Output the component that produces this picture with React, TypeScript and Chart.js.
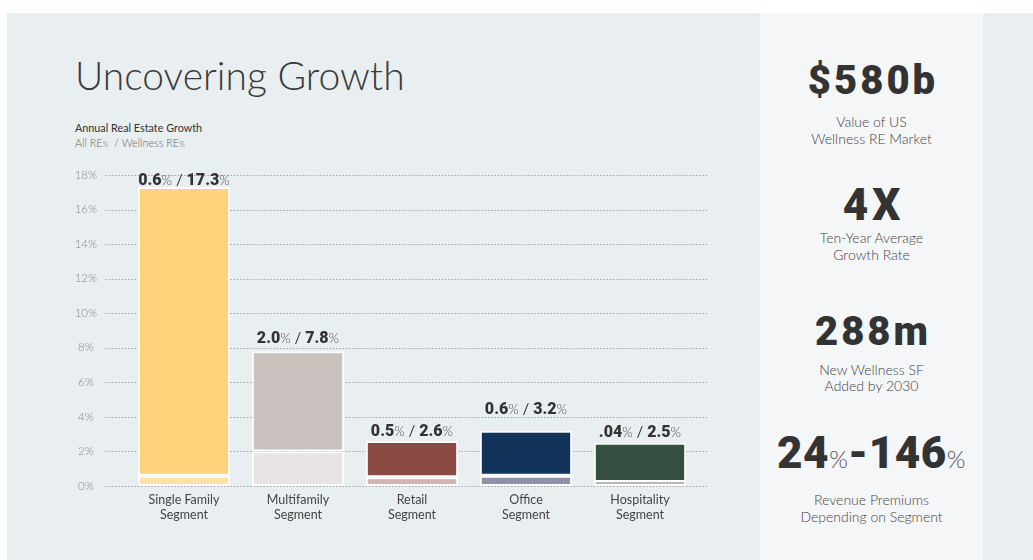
import React, { useEffect, useRef } from 'react';
import { Chart, registerables } from 'chart.js';

Chart.register(...registerables);

// ---------- data ----------
const categories = ['Single Family', 'Multifamily', 'Retail', 'Office', 'Hospitality'];
const allREGrowth = [0.6, 2.0, 0.5, 0.6, 0.04];
const wellnessREGrowth = [17.3, 7.8, 2.6, 3.2, 2.5];
const yTickValues = [0, 2, 4, 6, 8, 10, 12, 14, 16, 18];

const statValues = ['$580b', '4X', '288m'];
const statCaptions = [
  ['Value of US', 'Wellness RE Market'],
  ['Ten-Year Average', 'Growth Rate'],
  ['New Wellness SF', 'Added by 2030'],
];
const premiumRange = ['24', '146'];
const premiumCaption = ['Revenue Premiums', 'Depending on Segment'];

// ---------- styles ----------
const wellnessColors = ['#FDD47C', '#C9C1BE', '#8B4A44', '#12335A', '#344E3F'];
const allREColors = ['#FDE1A5', '#E8E4E3', '#D3B4B2', '#8D92A8', '#B5BAB8'];
const labelLift = [2, 8, 5, 17, 6];
const FONT = 'Lato, "Open Sans", sans-serif';
const HEAVY = 'Roboto, "Open Sans", sans-serif';

const fmt = (v: number) => (v < 0.1 ? v.toFixed(2).replace(/^0/, '') : v.toFixed(1));

const dottedGrid = {
  id: 'dottedGrid',
  beforeDatasetsDraw(chart: any) {
    const { ctx, chartArea, scales } = chart;
    const y = scales.y;
    ctx.save();
    ctx.strokeStyle = '#a3a7ab';
    ctx.lineWidth = 1;
    ctx.setLineDash([1.6, 1.7]);
    y.ticks.forEach((t: any) => {
      const py = Math.round(y.getPixelForValue(t.value)) + 0.5;
      ctx.beginPath();
      ctx.moveTo(chartArea.left - 22, py);
      ctx.lineTo(chartArea.right + 11, py);
      ctx.stroke();
    });
    ctx.restore();
  },
};

const barLabels = {
  id: 'barLabels',
  afterDatasetsDraw(chart: any) {
    const { ctx } = chart;
    const meta = chart.getDatasetMeta(1);
    ctx.save();
    ctx.textBaseline = 'alphabetic';
    ctx.textAlign = 'left';
    meta.data.forEach((bar: any, i: number) => {
      const top = Math.min(bar.y, bar.base);
      const parts = [
        { t: fmt(allREGrowth[i]), f: `900 16px ${HEAVY}`, c: '#333' },
        { t: '%', f: `300 13.5px ${FONT}`, c: '#555' },
        { t: ' / ', f: `400 15px ${FONT}`, c: '#333' },
        { t: fmt(wellnessREGrowth[i]), f: `900 16px ${HEAVY}`, c: '#333' },
        { t: '%', f: `300 13.5px ${FONT}`, c: '#555' },
      ];
      let total = 0;
      const widths = parts.map((p) => {
        ctx.font = p.f;
        const w = ctx.measureText(p.t).width;
        total += w;
        return w;
      });
      let x = bar.x - total / 2;
      const by = top - labelLift[i];
      parts.forEach((p, k) => {
        ctx.font = p.f;
        ctx.fillStyle = p.c;
        ctx.fillText(p.t, x, by);
        x += widths[k];
      });
    });
    ctx.restore();
  },
};

function BarChart() {
  const ref = useRef<HTMLCanvasElement | null>(null);
  useEffect(() => {
    if (!ref.current) return;
    const chart = new Chart(ref.current, {
      type: 'bar',
      data: {
        labels: categories,
        datasets: [
          {
            label: 'All RE',
            data: allREGrowth,
            backgroundColor: allREColors,
            borderColor: '#ffffff',
            borderWidth: 2,
            borderSkipped: false,
            minBarLength: 6,
            grouped: false,
            barPercentage: 0.81,
            categoryPercentage: 1,
            order: 0,
          } as any,
          {
            label: 'Wellness RE',
            data: allREGrowth.map((v, i) => [v, wellnessREGrowth[i]]),
            backgroundColor: wellnessColors,
            borderColor: '#ffffff',
            borderWidth: 2,
            borderSkipped: false,
            grouped: false,
            barPercentage: 0.81,
            categoryPercentage: 1,
            order: 1,
          } as any,
        ],
      },
      options: {
        responsive: false,
        animation: false,
        layout: { padding: { left: 67, right: 43, top: 25, bottom: 0 } },
        plugins: { legend: { display: false }, tooltip: { enabled: false }, title: { display: false } },
        scales: {
          x: {
            grid: { display: false, drawTicks: false },
            border: { display: false },
            ticks: {
              padding: 6,
              color: '#444',
              font: { family: FONT, size: 12.5, lineHeight: 1.22 },
              callback: (_v: any, i: number) => [categories[i], 'Segment'],
            },
            afterFit: (s: any) => {
              s.height = 64;
            },
          },
          y: {
            min: 0,
            max: 18,
            grid: { display: false, drawTicks: false },
            border: { display: false },
            afterBuildTicks: (s: any) => {
              s.ticks = yTickValues.map((v) => ({ value: v }));
            },
            ticks: {
              padding: 30,
              crossAlign: 'center',
              color: '#888',
              font: { family: FONT, size: 11.5, weight: 300 },
              callback: (v: any) => `${v}%`,
            },
            afterFit: (s: any) => {
              s.width = 60;
              s.paddingTop = 0;
              s.paddingBottom = 0;
            },
          },
        },
      } as any,
      plugins: [dottedGrid, barLabels],
    });
    return () => chart.destroy();
  }, []);
  return <canvas ref={ref} width={740} height={400} style={{ width: 740, height: 400, display: 'block' }} />;
}

const abs = (o: React.CSSProperties): React.CSSProperties => ({ position: 'absolute', ...o });

export default function App() {
  const statBig: React.CSSProperties = {
    left: 760,
    width: 223,
    textAlign: 'center',
    color: '#333',
    fontFamily: HEAVY,
    fontWeight: 900,
    whiteSpace: 'nowrap',
  };
  const caption: React.CSSProperties = {
    left: 760,
    width: 223,
    textAlign: 'center',
    color: '#444',
    fontWeight: 300,
    fontSize: 14,
    lineHeight: '16.5px',
    whiteSpace: 'nowrap',
  };
  const bigTops = [62, 186, 313];
  const bigSizes = [40, 44, 40];
  const bigSpacing = [3, 4, 3];
  const capTops = [114, 230, 361.5];
  return (
    <div style={abs({ left: 0, top: 0, width: 1033, height: 560, background: '#ffffff', overflow: 'hidden', fontFamily: FONT })}>
      <div style={abs({ left: 7, top: 13, width: 1026, height: 547, background: '#E9EEF1' })} />
      <div style={abs({ left: 760, top: 13, width: 223, height: 547, background: '#F4F6F8' })} />

      <div style={abs({ left: 75, top: 56, fontSize: 39, lineHeight: '39px', fontWeight: 300, color: '#3a3a3a', whiteSpace: 'nowrap' })}>
        Uncovering Growth
      </div>
      <div style={abs({ left: 75, top: 120.8, fontSize: 10.8, lineHeight: '13px', fontWeight: 400, color: '#333', whiteSpace: 'nowrap' })}>
        Annual Real Estate Growth
      </div>
      <div style={abs({ left: 75, top: 135.8, fontSize: 10.8, lineHeight: '13px', fontWeight: 300, color: '#666', whiteSpace: 'nowrap' })}>
        All RE<span style={{ fontSize: 7.5 }}>%</span>&nbsp;&nbsp;/ Wellness RE<span style={{ fontSize: 7.5 }}>%</span>
      </div>

      <div style={abs({ left: 0, top: 150, width: 740, height: 400 })}>
        <BarChart />
      </div>

      {statValues.map((v, i) => (
        <React.Fragment key={v}>
          <div
            style={abs({
              ...statBig,
              top: bigTops[i] - (bigSizes[i] - 38) / 2,
              fontSize: bigSizes[i],
              lineHeight: `${bigSizes[i]}px`,
              letterSpacing: bigSpacing[i],
              textIndent: bigSpacing[i],
            })}
          >
            {v}
          </div>
          <div style={abs({ ...caption, top: capTops[i] })}>
            {statCaptions[i][0]}
            <br />
            {statCaptions[i][1]}
          </div>
        </React.Fragment>
      ))}

      <div style={abs({ ...statBig, top: 430, fontSize: 44, lineHeight: '46px', letterSpacing: 0.5 })}>
        {premiumRange[0]}
        <span style={{ fontFamily: FONT, fontSize: 24, fontWeight: 300, color: '#555' }}>%</span>-{premiumRange[1]}
        <span style={{ fontFamily: FONT, fontSize: 24, fontWeight: 300, color: '#555' }}>%</span>
      </div>
      <div style={abs({ ...caption, top: 492 })}>
        {premiumCaption[0]}
        <br />
        {premiumCaption[1]}
      </div>
    </div>
  );
}
